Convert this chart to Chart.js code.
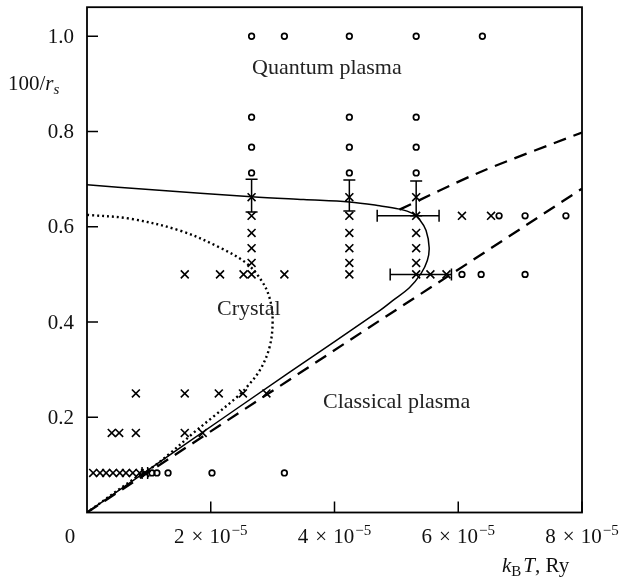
<!DOCTYPE html>
<html>
<head>
<meta charset="utf-8">
<script src="https://cdn.jsdelivr.net/npm/chart.js@4/dist/chart.umd.min.js"></script>
<style>
  html, body { margin: 0; padding: 0; background: #fff; }
  canvas { display: block; }
</style>
</head>
<body>
<canvas id="c" width="619" height="581"></canvas>
<script>
// ---- Simulation runs: k_B T (Ry) and 100/r_s ----
// crystal (×)
const crossT = [
  2.66e-5, 2.66e-5, 2.66e-5, 2.66e-5, 2.66e-5, 2.66e-5,
  4.24e-5, 4.24e-5, 4.24e-5, 4.24e-5, 4.24e-5, 4.24e-5,
  5.32e-5, 5.32e-5, 5.32e-5, 5.32e-5, 5.32e-5, 5.32e-5,
  1.58e-5, 2.15e-5, 2.53e-5, 3.19e-5, 5.55e-5, 5.81e-5,
  6.06e-5, 6.53e-5,
  0.79e-5, 1.58e-5, 2.13e-5, 2.52e-5, 2.90e-5,
  0.40e-5, 0.52e-5, 0.79e-5, 1.58e-5, 1.87e-5,
  0.10e-5, 0.21e-5, 0.31e-5, 0.42e-5, 0.53e-5, 0.63e-5, 0.74e-5, 0.85e-5, 0.94e-5
];
const crossY = [
  0.662, 0.623, 0.587, 0.555, 0.524, 0.5,
  0.662, 0.623, 0.587, 0.555, 0.524, 0.5,
  0.662, 0.623, 0.587, 0.555, 0.524, 0.5,
  0.5, 0.5, 0.5, 0.5, 0.5, 0.5,
  0.623, 0.623,
  0.25, 0.25, 0.25, 0.25, 0.25,
  0.167, 0.167, 0.167, 0.167, 0.167,
  0.083, 0.083, 0.083, 0.083, 0.083, 0.083, 0.083, 0.083, 0.083
];
// plasma (○)
const circleT = [
  2.66e-5, 3.19e-5, 4.24e-5, 5.32e-5, 6.39e-5,
  2.66e-5, 4.24e-5, 5.32e-5,
  2.66e-5, 4.24e-5, 5.32e-5,
  2.66e-5, 4.24e-5, 5.32e-5,
  6.66e-5, 7.08e-5, 7.74e-5,
  6.06e-5, 6.37e-5, 7.08e-5,
  1.05e-5, 1.13e-5, 1.31e-5, 2.02e-5, 3.19e-5
];
const circleY = [
  1.0, 1.0, 1.0, 1.0, 1.0,
  0.83, 0.83, 0.83,
  0.767, 0.767, 0.767,
  0.713, 0.713, 0.713,
  0.623, 0.623, 0.623,
  0.5, 0.5, 0.5,
  0.083, 0.083, 0.083, 0.083, 0.083
];

// ---- Error bars ----
const errVT  = [2.66e-5, 4.24e-5, 5.32e-5];
const errVLo = [0.631, 0.633, 0.623];
const errVHi = [0.700, 0.698, 0.696];
const errHY  = [0.623, 0.5, 0.083];
const errHLo = [4.69e-5, 4.90e-5, 0.89e-5];
const errHHi = [5.69e-5, 5.89e-5, 0.98e-5];

// ---- Phase boundaries ----
// melting line (solid)
const meltT = [0, 1.0e-5, 2.66e-5, 3.5e-5, 4.24e-5, 4.73e-5, 5.05e-5, 5.26e-5, 5.38e-5,
               5.48e-5, 5.53e-5, 5.50e-5, 5.40e-5, 5.21e-5, 4.94e-5, 4.73e-5, 3.27e-5, 1.45e-5, 0];
const meltY = [0.688, 0.678, 0.663, 0.657, 0.652, 0.644, 0.637, 0.628, 0.614,
               0.592, 0.556, 0.529, 0.502, 0.472, 0.445, 0.424, 0.294, 0.131, 0];
// upper dashed boundary
const upperT = [5.05e-5, 6.34e-5, 8.0e-5];
const upperY = [0.636, 0.714, 0.798];
// lower dashed boundary
const lowerT = [0, 2.90e-5, 4.73e-5, 6.13e-5, 8.0e-5];
const lowerY = [0, 0.247, 0.403, 0.521, 0.680];
// classical crystal boundary (dotted)
const dotT = [0, 0.69e-5, 1.50e-5, 2.15e-5, 2.58e-5, 2.82e-5, 2.95e-5, 3.00e-5, 2.95e-5,
              2.79e-5, 2.58e-5, 2.42e-5, 2.03e-5, 1.71e-5, 1.34e-5, 1.06e-5, 0.85e-5, 0];
const dotY = [0.625, 0.617, 0.592, 0.556, 0.523, 0.487, 0.451, 0.403, 0.347,
              0.298, 0.263, 0.242, 0.200, 0.166, 0.124, 0.095, 0.079, 0];

// ---- Axes ----
const xTicks = [2e-5, 4e-5, 6e-5, 8e-5];
const xTickMant = ['2', '4', '6', '8'];
const yTicks = [0.2, 0.4, 0.6, 0.8, 1.0];
const yTickLabels = ['0.2', '0.4', '0.6', '0.8', '1.0'];

const pts = (xs, ys) => xs.map((x, i) => ({ x: x, y: ys[i] }));

const SERIF = '"Liberation Serif", "DejaVu Serif", serif';

const decor = {
  id: 'decor',
  afterDatasetsDraw(chart) {
    const ctx = chart.ctx;
    const a = chart.chartArea;
    const xs = chart.scales.x, ys = chart.scales.y;
    ctx.save();
    ctx.strokeStyle = '#000';
    ctx.fillStyle = '#111';

    // error bars
    ctx.lineWidth = 1.5;
    const cap = 6;
    errVT.forEach((t, i) => {
      const px = xs.getPixelForValue(t);
      const y1 = ys.getPixelForValue(errVLo[i]), y2 = ys.getPixelForValue(errVHi[i]);
      ctx.beginPath();
      ctx.moveTo(px, y1); ctx.lineTo(px, y2);
      ctx.moveTo(px - cap, y1); ctx.lineTo(px + cap, y1);
      ctx.moveTo(px - cap, y2); ctx.lineTo(px + cap, y2);
      ctx.stroke();
    });
    errHY.forEach((v, i) => {
      const py = ys.getPixelForValue(v);
      const x1 = xs.getPixelForValue(errHLo[i]), x2 = xs.getPixelForValue(errHHi[i]);
      ctx.beginPath();
      ctx.moveTo(x1, py); ctx.lineTo(x2, py);
      ctx.moveTo(x1, py - cap); ctx.lineTo(x1, py + cap);
      ctx.moveTo(x2, py - cap); ctx.lineTo(x2, py + cap);
      ctx.stroke();
    });

    // frame
    ctx.lineWidth = 1.8;
    ctx.strokeRect(a.left, a.top, a.right - a.left, a.bottom - a.top);

    // inward ticks
    ctx.lineWidth = 1.5;
    const tl = 11;
    ctx.beginPath();
    xTicks.forEach(t => {
      const px = xs.getPixelForValue(t);
      ctx.moveTo(px, a.bottom); ctx.lineTo(px, a.bottom - tl);
    });
    yTicks.forEach(v => {
      const py = ys.getPixelForValue(v);
      ctx.moveTo(a.left, py); ctx.lineTo(a.left + tl, py);
    });
    ctx.stroke();

    // y tick labels
    ctx.font = '21px ' + SERIF;
    ctx.textAlign = 'right';
    ctx.textBaseline = 'middle';
    yTicks.forEach((v, i) => {
      ctx.fillText(yTickLabels[i], a.left - 13, ys.getPixelForValue(v) + 1);
    });

    // x tick labels: m × 10^-5
    ctx.textBaseline = 'alphabetic';
    ctx.textAlign = 'left';
    const base = 543;
    xTicks.forEach((t, i) => {
      const parts = [xTickMant[i], '\u00d7', '10'];
      const gaps = [7, 6, 0];
      const sup = '\u22125';
      ctx.font = '21px ' + SERIF;
      const widths = parts.map(p => ctx.measureText(p).width);
      let total = widths.reduce((s, w) => s + w, 0) + gaps.reduce((s, g) => s + g, 0);
      ctx.font = '15px ' + SERIF;
      const w2 = ctx.measureText(sup).width;
      total += w2 + 1;
      let x = xs.getPixelForValue(t) - total / 2;
      ctx.font = '21px ' + SERIF;
      parts.forEach((p, k) => {
        ctx.fillText(p, x, base);
        x += widths[k] + gaps[k];
      });
      ctx.font = '15px ' + SERIF;
      ctx.fillText(sup, x + 1, base - 8);
    });
    ctx.font = '21px ' + SERIF;
    ctx.textAlign = 'center';
    ctx.fillText('0', a.left - 17, base);

    // axis titles
    const run = (parts, x, y) => {
      ctx.textAlign = 'left';
      parts.forEach(p => {
        ctx.font = p[1];
        ctx.fillText(p[0], x, y + (p[2] || 0));
        x += ctx.measureText(p[0]).width + (p[3] || 0);
      });
    };
    run([
      ['100/', '21px ' + SERIF],
      ['r', 'italic 21px ' + SERIF],
      ['s', 'italic 15px ' + SERIF, 4]
    ], 8, 90);
    run([
      ['k', 'italic 21px ' + SERIF],
      ['B', '15px ' + SERIF, 4, 2],
      ['T', 'italic 21px ' + SERIF],
      [', Ry', '21px ' + SERIF]
    ], 502, 572);

    // region labels
    ctx.font = '22px ' + SERIF;
    ctx.textAlign = 'left';
    ctx.fillStyle = '#222';
    ctx.fillText('Quantum plasma', 252, 74);
    ctx.fillText('Crystal', 217, 315);
    ctx.fillText('Classical plasma', 323, 408);

    ctx.restore();
  }
};

new Chart(document.getElementById('c'), {
  type: 'scatter',
  data: {
    datasets: [
      {
        label: 'melting',
        data: pts(meltT, meltY),
        showLine: true, pointRadius: 0, borderColor: '#000', borderWidth: 1.5,
        tension: 0.35, fill: false
      },
      {
        label: 'upper',
        data: pts(upperT, upperY),
        showLine: true, pointRadius: 0, borderColor: '#000', borderWidth: 2.3,
        borderDash: [13, 8], tension: 0.3, fill: false
      },
      {
        label: 'lower',
        data: pts(lowerT, lowerY),
        showLine: true, pointRadius: 0, borderColor: '#000', borderWidth: 2.3,
        borderDash: [13, 8], tension: 0, fill: false
      },
      {
        label: 'classical crystal',
        data: pts(dotT, dotY),
        showLine: true, pointRadius: 0, borderColor: '#000', borderWidth: 2.4,
        borderDash: [2, 3], tension: 0.35, fill: false
      },
      {
        label: 'crystal',
        data: pts(crossT, crossY),
        pointStyle: 'crossRot', pointRadius: 5.6, pointBorderWidth: 1.6,
        borderColor: '#000', backgroundColor: '#000'
      },
      {
        label: 'plasma',
        data: pts(circleT, circleY),
        pointStyle: 'circle', pointRadius: 2.8, pointBorderWidth: 1.7,
        borderColor: '#000', backgroundColor: 'rgba(255,255,255,0)'
      }
    ]
  },
  options: {
    responsive: false,
    animation: false,
    devicePixelRatio: 1,
    layout: { padding: { left: 87, right: 37, top: 6, bottom: 68.5 } },
    plugins: { legend: { display: false }, tooltip: { enabled: false } },
    scales: {
      x: { type: 'linear', min: 0, max: 8e-5, display: false },
      y: { type: 'linear', min: 0, max: 1.061, display: false }
    }
  },
  plugins: [decor]
});
</script>
</body>
</html>
